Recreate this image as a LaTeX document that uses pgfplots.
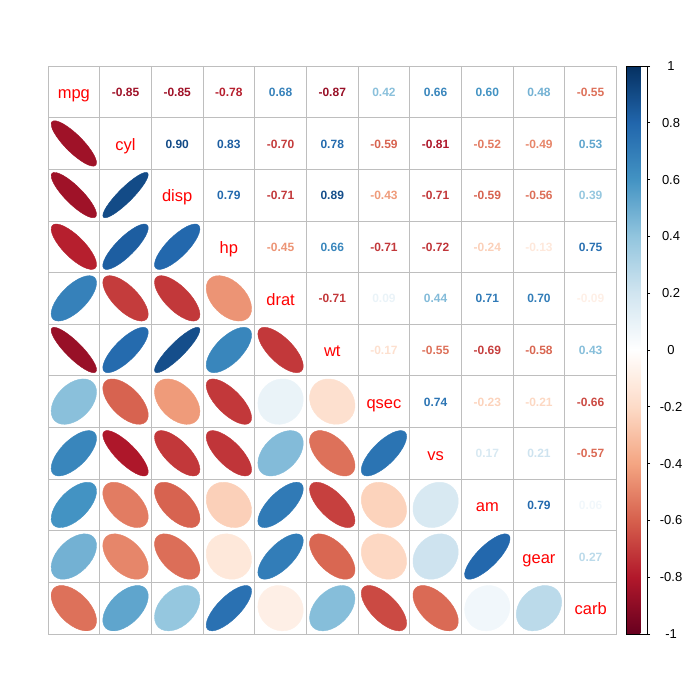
\documentclass[border=0pt]{standalone}
\usepackage{fontspec}
\setmainfont{Liberation Sans}
\usepackage{pgfplots}
\usepackage{pgfplotstable}
\pgfplotsset{compat=1.18}

% correlations of mtcars, upper triangle: variable i against variable j
\pgfplotstableread{
i j r
1 2 -0.85
1 3 -0.85
1 4 -0.78
1 5 0.68
1 6 -0.87
1 7 0.42
1 8 0.66
1 9 0.60
1 10 0.48
1 11 -0.55
2 3 0.90
2 4 0.83
2 5 -0.70
2 6 0.78
2 7 -0.59
2 8 -0.81
2 9 -0.52
2 10 -0.49
2 11 0.53
3 4 0.79
3 5 -0.71
3 6 0.89
3 7 -0.43
3 8 -0.71
3 9 -0.59
3 10 -0.56
3 11 0.39
4 5 -0.45
4 6 0.66
4 7 -0.71
4 8 -0.72
4 9 -0.24
4 10 -0.13
4 11 0.75
5 6 -0.71
5 7 0.09
5 8 0.44
5 9 0.71
5 10 0.70
5 11 -0.09
6 7 -0.17
6 8 -0.55
6 9 -0.69
6 10 -0.58
6 11 0.43
7 8 0.74
7 9 -0.23
7 10 -0.21
7 11 -0.66
8 9 0.17
8 10 0.21
8 11 -0.57
9 10 0.79
9 11 0.06
10 11 0.27
}\corr

\definecolor{gridgrey}{RGB}{190,190,190}

% ellipse whose axes follow the correlation
\pgfdeclareplotmark{correll}{%
  \pgfmathsetmacro\ra{22.7*sqrt(1+\rval)}%
  \pgfmathsetmacro\rb{22.7*sqrt(1-\rval)}%
  \pgftransformrotate{45}%
  \pgfpathellipse{\pgfpointorigin}{\pgfpoint{\ra pt}{0pt}}{\pgfpoint{0pt}{\rb pt}}%
  \pgfusepath{fill,stroke}}
% the correlation as text
\pgfdeclareplotmark{corrtext}{%
  \node[text=mapped color, inner sep=0pt, anchor=base, yshift=-4.6pt,
    font=\fontsize{12}{14}\selectfont\bfseries]
    {\pgfmathprintnumber[fixed, precision=2, zerofill, assume math mode=true]{\rval}};}

\begin{document}
\begin{tikzpicture}
\useasboundingbox (0,0) rectangle (700pt,700pt);
\begin{axis}[
  at={(48pt,66pt)}, anchor=south west,
  scale only axis, width=568.5pt, height=568pt,
  xmin=0.5, xmax=11.5, ymin=0.5, ymax=11.5, y dir=reverse,
  xtick={1.5,2.5,...,10.5}, ytick={1.5,2.5,...,10.5},
  xticklabels={}, yticklabels={}, major tick length=0pt,
  grid=major, grid style={draw=gridgrey, line width=0.8pt},
  axis line style={draw=gridgrey, line width=0.8pt},
  clip=false,
  colormap={RdBu}{rgb255=(103,0,31) rgb255=(178,24,43) rgb255=(214,96,77)
    rgb255=(244,165,130) rgb255=(253,219,199) rgb255=(255,255,255)
    rgb255=(209,229,240) rgb255=(146,197,222) rgb255=(67,147,195)
    rgb255=(33,102,172) rgb255=(5,48,97)},
  point meta min=-1, point meta max=1,
  colorbar right,
  colorbar style={
    at={(parent axis.north east)}, anchor=north west, xshift=1pt,
    scale only axis, width=21pt, height=568pt,
    axis line style={draw=black, line width=0.8pt},
    ytick={-1,-0.8,-0.6,-0.4,-0.2,0,0.2,0.4,0.6,0.8,1},
    ytick pos=right, tick align=outside, major tick length=3pt,
    tick style={draw=black, line width=0.8pt},
    yticklabel style={font=\fontsize{13}{15}\selectfont, anchor=center, xshift=21pt},
    /pgf/number format/assume math mode=true,
  },
]
% numbers above the diagonal
\addplot[scatter, only marks, mark=corrtext, point meta=explicit,
  scatter/use mapped color={draw=mapped color, fill=mapped color},
  visualization depends on={\thisrow{r}\as\rval}]
  table[x=j, y=i, meta=r] {\corr};
% ellipses below the diagonal
\addplot[scatter, only marks, mark=correll, point meta=explicit,
  scatter/use mapped color={draw=mapped color, fill=mapped color},
  visualization depends on={\thisrow{r}\as\rval}]
  table[x=i, y=j, meta=r] {\corr};
% variable names on the diagonal
\addplot[draw=none, mark=none, point meta=explicit symbolic,
  nodes near coords,
  every node near coord/.append style={text=red, inner sep=0pt,
    anchor=base, yshift=-6.8pt, font=\fontsize{16.5}{18}\selectfont}]
  coordinates {(1,1)[mpg] (2,2)[cyl] (3,3)[disp] (4,4)[hp] (5,5)[drat]
    (6,6)[wt] (7,7)[qsec] (8,8)[vs] (9,9)[am] (10,10)[gear] (11,11)[carb]};
\end{axis}
\end{tikzpicture}
\end{document}
